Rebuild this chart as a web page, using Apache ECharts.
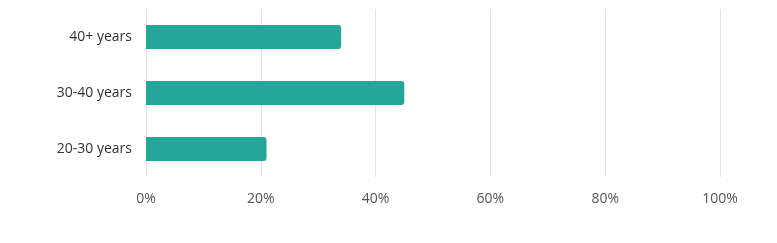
<!DOCTYPE html>
<html>
<head>
<meta charset="utf-8">
<script src="https://cdn.jsdelivr.net/npm/echarts@6/dist/echarts.min.js"></script>
<style>html,body{margin:0;padding:0;background:#fff}#c{width:777px;height:243px}</style>
</head>
<body>
<div id="c"></div>
<script>
const categories = ['20-30 years', '30-40 years', '40+ years'];
const values = [21, 45, 34];
const xTicks = [0, 20, 40, 60, 80, 100];

const chart = echarts.init(document.getElementById('c'), null, {renderer: 'canvas'});
chart.setOption({
  animation: false,
  textStyle: {fontFamily: 'Open Sans'},
  grid: {left: 146, right: 57, top: 9, height: 168, containLabel: false},
  xAxis: {
    type: 'value', min: xTicks[0], max: xTicks[xTicks.length - 1], interval: 20,
    axisLine: {show: false}, axisTick: {show: false},
    splitLine: {show: true, lineStyle: {color: '#e6e6e6', width: 1}},
    axisLabel: {formatter: '{value}%', color: '#555', fontSize: 14, margin: 15, fontFamily: 'Open Sans'}
  },
  yAxis: {
    type: 'category', data: categories,
    axisLine: {show: false}, axisTick: {show: false},
    axisLabel: {color: '#333', fontSize: 14, margin: 14, fontFamily: 'Open Sans'}
  },
  series: [{
    type: 'bar', data: values, barWidth: 24,
    itemStyle: {color: '#26a69a', borderRadius: [0, 3, 3, 0]}
  }]
});
</script>
</body>
</html>
